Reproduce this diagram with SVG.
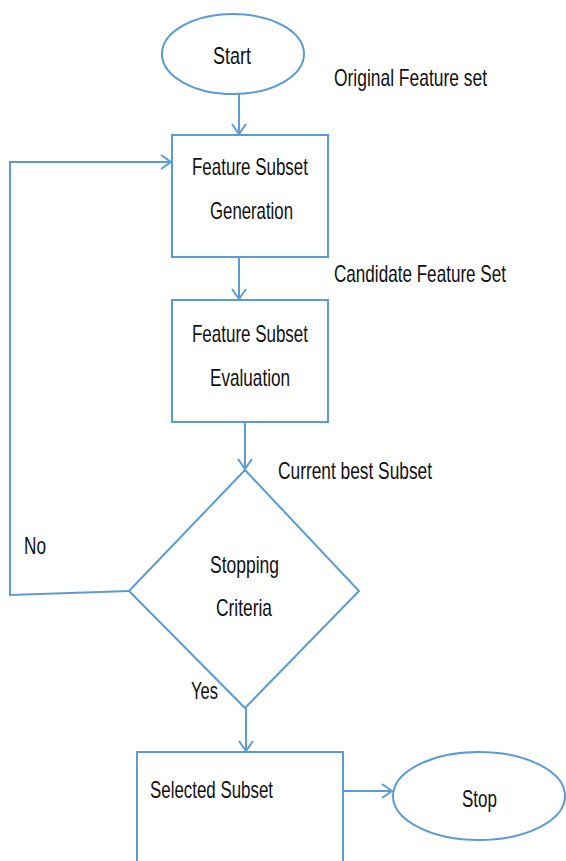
<svg xmlns="http://www.w3.org/2000/svg" width="566" height="861" viewBox="0 0 566 861">
  <style>
    .shape { fill: #ffffff; stroke: #5b9bd5; stroke-width: 2; }
    .line { fill: none; stroke: #5b9bd5; stroke-width: 2; }
    text { font-family: "Liberation Sans", Arial, sans-serif; font-size: 24px; fill: #111111; }
  </style>
  <defs>
    <marker id="open" viewBox="0 0 12 16" refX="11" refY="8" markerWidth="12" markerHeight="16" markerUnits="userSpaceOnUse" orient="auto">
      <path d="M1 1 L11 8 L1 15" fill="none" stroke="#5b9bd5" stroke-width="2"/>
    </marker>
  </defs>

  <g id="connectors">
    <line class="line" x1="239" y1="93" x2="239" y2="134" marker-end="url(#open)"/>
    <line class="line" x1="239" y1="257" x2="239" y2="299" marker-end="url(#open)"/>
    <line class="line" x1="245" y1="422" x2="245" y2="469" marker-end="url(#open)"/>
    <line class="line" x1="246" y1="708" x2="246" y2="751" marker-end="url(#open)"/>
    <line class="line" x1="343" y1="791" x2="392" y2="791" marker-end="url(#open)"/>
    <path class="line" d="M129 591 L10 595 L10 162 L171 162" marker-end="url(#open)"/>
  </g>

  <g id="start">
    <ellipse class="shape" cx="233" cy="54" rx="71" ry="40"/>
    <text x="213" y="64" textLength="38" lengthAdjust="spacingAndGlyphs">Start</text>
  </g>

  <g id="generation">
    <rect class="shape" x="172" y="135" width="156" height="122"/>
    <text x="192" y="175" textLength="116" lengthAdjust="spacingAndGlyphs">Feature Subset</text>
    <text x="210" y="219" textLength="83" lengthAdjust="spacingAndGlyphs">Generation</text>
  </g>

  <g id="evaluation">
    <rect class="shape" x="172" y="300" width="156" height="122"/>
    <text x="192" y="342" textLength="116" lengthAdjust="spacingAndGlyphs">Feature Subset</text>
    <text x="210" y="386" textLength="80" lengthAdjust="spacingAndGlyphs">Evaluation</text>
  </g>

  <g id="stopping">
    <polygon class="shape" points="245,470 359,591 245,708 129,591"/>
    <text x="210" y="573" textLength="69" lengthAdjust="spacingAndGlyphs">Stopping</text>
    <text x="216" y="616" textLength="56" lengthAdjust="spacingAndGlyphs">Criteria</text>
  </g>

  <g id="selected">
    <rect class="shape" x="137" y="752" width="206" height="120"/>
    <text x="150" y="798" textLength="123" lengthAdjust="spacingAndGlyphs">Selected Subset</text>
  </g>

  <g id="stop">
    <ellipse class="shape" cx="479" cy="796" rx="86" ry="44"/>
    <text x="462" y="807" textLength="35" lengthAdjust="spacingAndGlyphs">Stop</text>
  </g>

  <g id="labels">
    <text x="334" y="86" textLength="153" lengthAdjust="spacingAndGlyphs">Original Feature set</text>
    <text x="334" y="282" textLength="172" lengthAdjust="spacingAndGlyphs">Candidate Feature Set</text>
    <text x="278" y="479" textLength="154" lengthAdjust="spacingAndGlyphs">Current best Subset</text>
    <text x="24" y="554" textLength="22" lengthAdjust="spacingAndGlyphs">No</text>
    <text x="191" y="699" textLength="27" lengthAdjust="spacingAndGlyphs">Yes</text>
  </g>
</svg>
